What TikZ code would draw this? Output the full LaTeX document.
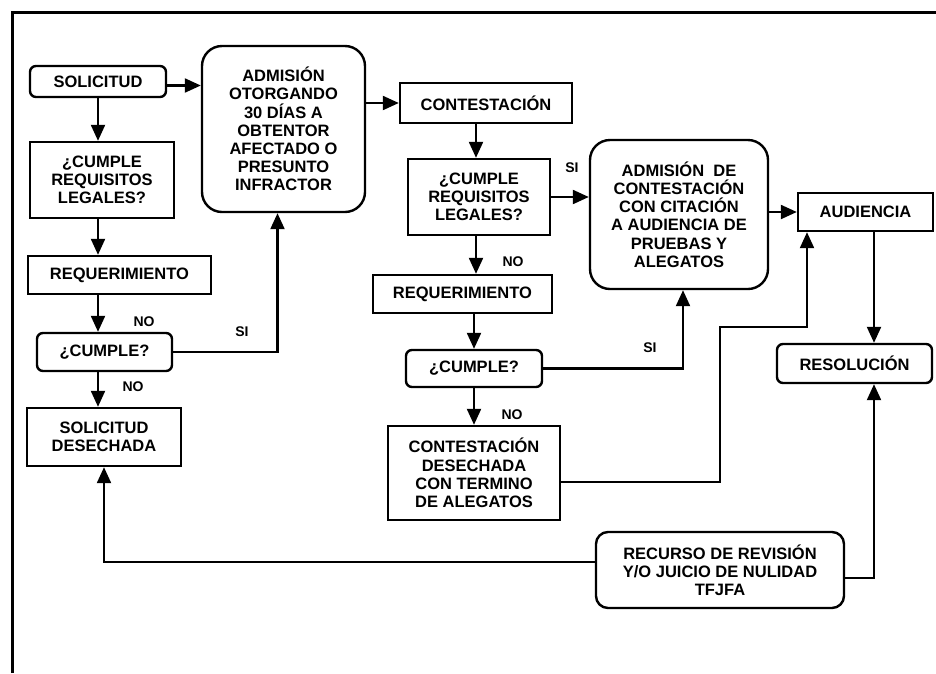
\documentclass[tikz,border=0pt]{standalone}
\usepackage{fontspec}
\setmainfont{Liberation Sans}
\usetikzlibrary{arrows.meta,calc}
\begin{document}
\begin{tikzpicture}[x=1pt,y=-1pt,
  box/.style={draw,line width=2.4pt,align=center,inner sep=0pt,font=\fontsize{16.5}{18.2}\selectfont\bfseries},
  rbox/.style={box,rounded corners=6pt},
  bigr/.style={box,rounded corners=20pt},
  conn/.style={line width=2.2pt,-{Triangle[length=16pt,width=14pt]}},
  lbl/.style={font=\fontsize{14}{16}\selectfont\bfseries,inner sep=0pt}]
\useasboundingbox (0,0) rectangle (936,673);
\draw[line width=3pt] (12,673) -- (12,12) -- (936,12);

% left column
\node[rbox,minimum width=136pt,minimum height=31pt] (sol) at (98,81.5) {SOLICITUD};
\node[box,minimum width=144pt,minimum height=76pt] (req1) at (102,180) {¿CUMPLE\\REQUISITOS\\LEGALES?};
\node[bigr,minimum width=163pt,minimum height=166pt] (adm) at (283.5,129) {ADMISIÓN\\OTORGANDO\\30 DÍAS A\\OBTENTOR\\AFECTADO O\\PRESUNTO\\INFRACTOR};
\node[box,minimum width=183pt,minimum height=38pt] (rq1) at (119.5,275) {REQUERIMIENTO};
\node[rbox,minimum width=135pt,minimum height=38pt] (cu1) at (104.5,352) {¿CUMPLE?};
\node[box,minimum width=154pt,minimum height=58pt] (des1) at (104,437) {SOLICITUD\\DESECHADA};

% middle column
\node[box,minimum width=172pt,minimum height=40pt] (con) at (486,103) {CONTESTACIÓN};
\node[box,minimum width=142pt,minimum height=76pt] (req2) at (479,197) {¿CUMPLE\\REQUISITOS\\LEGALES?};
\node[bigr,minimum width=178pt,minimum height=149pt] (adm2) at (679,214.5) {ADMISIÓN\ \ DE\\CONTESTACIÓN\\CON CITACIÓN\\A AUDIENCIA DE\\PRUEBAS Y\\ALEGATOS};
\node[box,minimum width=179pt,minimum height=38pt] (rq2) at (462.5,294) {REQUERIMIENTO};
\node[rbox,minimum width=136pt,minimum height=37pt] (cu2) at (474,368.5) {¿CUMPLE?};
\node[box,minimum width=172pt,minimum height=94pt] (des2) at (474,473) {CONTESTACIÓN\\DESECHADA\\CON TERMINO\\DE ALEGATOS};

% right column
\node[box,minimum width=135pt,minimum height=38pt] (aud) at (865.5,212) {AUDIENCIA};
\node[rbox,minimum width=155pt,minimum height=39pt] (res) at (854.5,363.5) {RESOLUCIÓN};
\node[box,rounded corners=12pt,minimum width=248pt,minimum height=76pt] (rec) at (720,570) {RECURSO DE REVISIÓN\\Y/O JUICIO DE NULIDAD\\TFJFA};

% labels
\node[lbl] (l1) at (144,322) {NO};
\node[lbl] (l2) at (242,332) {SI};
\node[lbl] (l3) at (133,387) {NO};
\node[lbl] (l4) at (572,168) {SI};
\node[lbl] (l5) at (513,262) {NO};
\node[lbl] (l6) at (650,348) {SI};
\node[lbl] (l7) at (512,415) {NO};

% connectors left
\coordinate (a1) at ([yshift=-4pt]sol.east);
\draw[conn] (a1) -- (a1 -| adm.west);
\draw[conn] (adm.east |- con.west) -- (con.west);
\draw[conn] (sol.south) -- (sol.south |- req1.north);
\draw[conn] (sol.south |- req1.south) -- (sol.south |- rq1.north);
\draw[conn] (sol.south |- rq1.south) -- (sol.south |- cu1.north);
\draw[conn] (sol.south |- cu1.south) -- (sol.south |- des1.north);
\coordinate (a2) at ([xshift=-6pt]adm.south);
\draw[conn] (cu1.east) -| (a2);

% connectors middle
\coordinate (m1) at ([xshift=2pt]cu2.north);
\draw[conn] (m1 |- con.south) -- (m1 |- req2.north);
\draw[conn] (req2.east) -- (req2.east -| adm2.west);
\draw[conn] (m1 |- req2.south) -- (m1 |- rq2.north);
\draw[conn] (cu2.north |- rq2.south) -- (cu2.north);
\draw[conn] (cu2.south) -- (cu2.south |- des2.north);
\coordinate (a3) at ([xshift=4pt]adm2.south);
\draw[conn] (cu2.east) -| (a3);
\coordinate (d2) at ([yshift=-9pt]des2.east);
\coordinate (k1) at (720,327);
\coordinate (k2) at (807,327);
\draw[conn] (d2) -| (k1) -- (k2) -- (k2 |- aud.south);

% connectors right
\draw[conn] (adm2.east |- aud.west) -- (aud.west);
\coordinate (k3) at ([xshift=8.5pt]aud.south);
\draw[conn] (k3) -- (k3 |- res.north);
\coordinate (r1) at ([yshift=-8pt]rec.east);
\draw[conn] (r1) -| (k3 |- res.south);
\coordinate (r2) at ([yshift=8pt]rec.west);
\draw[conn] (r2) -| (des1.south);
\end{tikzpicture}
\end{document}
